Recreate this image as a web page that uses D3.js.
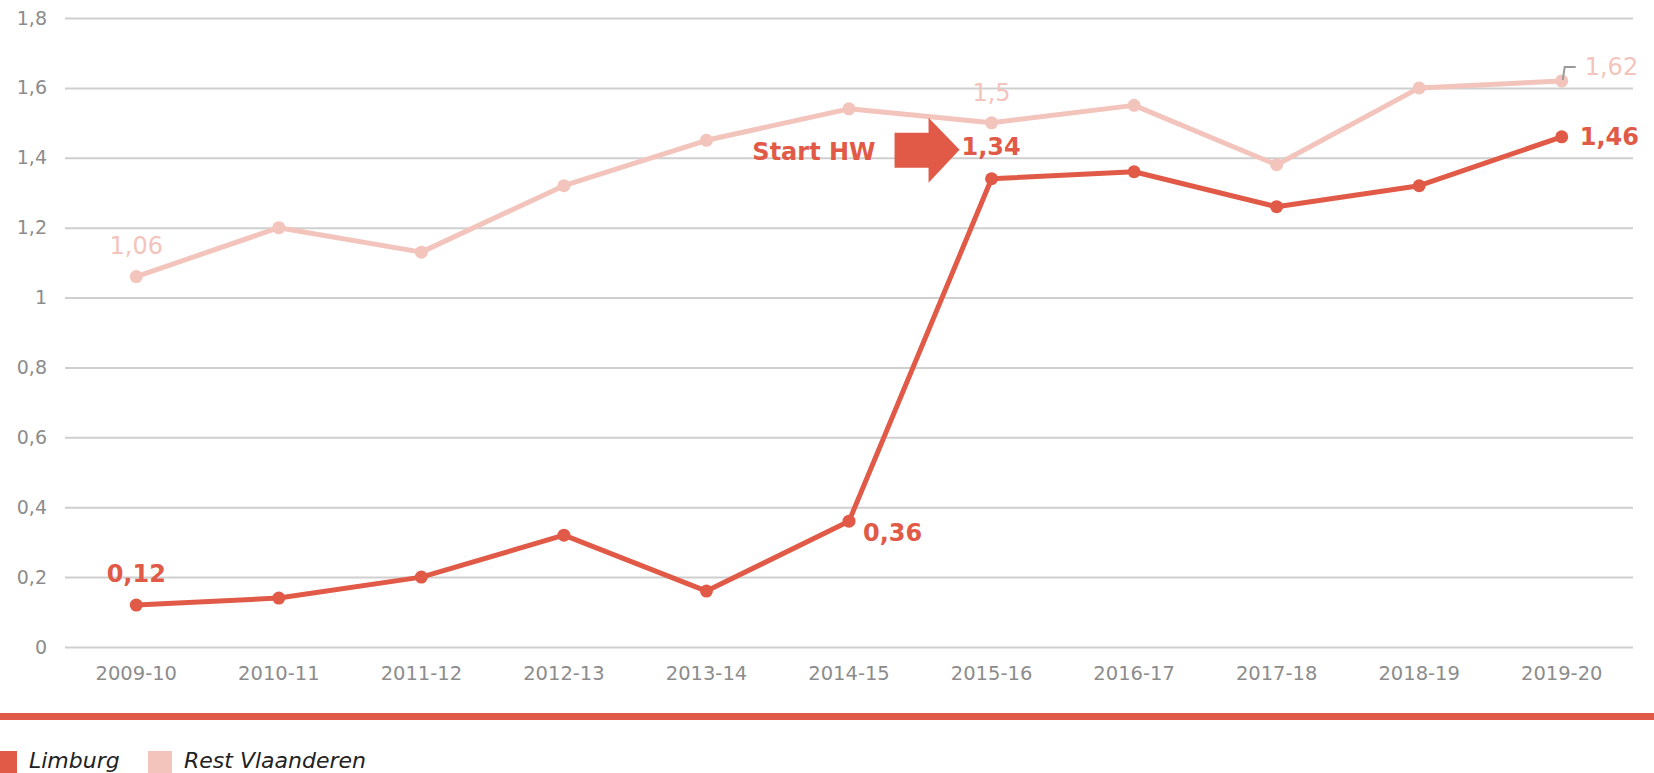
<!DOCTYPE html>
<html>
<head>
<meta charset="utf-8">
<script src="https://cdn.jsdelivr.net/npm/d3@7"></script>
<style>
  body { margin: 0; background: #fff; }
  svg { display: block; font-family: "DejaVu Sans", Verdana, sans-serif; }
</style>
</head>
<body>
<svg id="chart"></svg>
<script>
const WIDTH = 1654;
const HEIGHT = 773;
const MARGIN = { top: 18, right: 21, bottom: 126, left: 65 };

const RED = "#e05a47";
const PINK = "#f3c4bc";
const GRID = "#cfcfcf";
const TICK_TEXT = "#8c8c8c";

const years = ["2009-10", "2010-11", "2011-12", "2012-13", "2013-14", "2014-15",
  "2015-16", "2016-17", "2017-18", "2018-19", "2019-20"];
const limburg = [0.12, 0.14, 0.20, 0.32, 0.16, 0.36, 1.34, 1.36, 1.26, 1.32, 1.46];
const restVlaanderen = [1.06, 1.20, 1.13, 1.32, 1.45, 1.54, 1.50, 1.55, 1.38, 1.60, 1.62];
const yTicks = [0, 0.2, 0.4, 0.6, 0.8, 1, 1.2, 1.4, 1.6, 1.8];

// labelled points: index + placement
const limburgLabels = [
  { i: 0, dx: 0, dy: -23, anchor: "middle" },
  { i: 5, dx: 14, dy: 20, anchor: "start" },
  { i: 6, dx: -30, dy: -24, anchor: "start" },
  { i: 10, dx: 18, dy: 8, anchor: "start" },
];
const restLabels = [
  { i: 0, dx: 0, dy: -23, anchor: "middle" },
  { i: 6, dx: 0, dy: -22, anchor: "middle" },
  { i: 10, dx: 23, dy: -6, anchor: "start" },
];

const fmt = (v) => String(v).replace(".", ",");

const svg = d3.select("#chart").attr("width", WIDTH).attr("height", HEIGHT);

const x = d3.scaleBand()
  .domain(years)
  .range([MARGIN.left, WIDTH - MARGIN.right]);
const cx = (i) => x(years[i]) + x.bandwidth() / 2;

const y = d3.scaleLinear()
  .domain([0, 1.8])
  .range([HEIGHT - MARGIN.bottom, MARGIN.top]);

// grid + y axis
const yAxis = d3.axisLeft(y)
  .tickValues(yTicks)
  .tickSize(-(WIDTH - MARGIN.left - MARGIN.right))
  .tickPadding(18)
  .tickFormat((d) => fmt(d));

svg.append("g")
  .attr("transform", `translate(${MARGIN.left},0)`)
  .call(yAxis)
  .call((g) => g.select(".domain").remove())
  .call((g) => g.selectAll("line").attr("stroke", GRID).attr("stroke-width", 2))
  .call((g) => g.selectAll("text")
    .attr("fill", TICK_TEXT)
    .attr("font-size", 19)
    .attr("font-family", "DejaVu Sans"));

// x axis
const xAxis = d3.axisBottom(x).tickSize(0).tickPadding(19);
svg.append("g")
  .attr("transform", `translate(0,${HEIGHT - MARGIN.bottom})`)
  .call(xAxis)
  .call((g) => g.select(".domain").remove())
  .call((g) => g.selectAll("text")
    .attr("fill", TICK_TEXT)
    .attr("font-size", 19.5)
    .attr("font-family", "DejaVu Sans"));

const line = d3.line()
  .x((d, i) => cx(i))
  .y((d) => y(d));

function drawSeries(values, color) {
  svg.append("path")
    .datum(values)
    .attr("d", line)
    .attr("fill", "none")
    .attr("stroke", color)
    .attr("stroke-width", 5)
    .attr("stroke-linejoin", "round");
  svg.append("g")
    .selectAll("circle")
    .data(values)
    .join("circle")
    .attr("cx", (d, i) => cx(i))
    .attr("cy", (d) => y(d))
    .attr("r", 6.5)
    .attr("fill", color);
}

drawSeries(restVlaanderen, PINK);
drawSeries(limburg, RED);

// connector for last pink label
const lastI = restVlaanderen.length - 1;
const px = cx(lastI);
const py = y(restVlaanderen[lastI]);
svg.append("path")
  .attr("d", `M${px + 1},${py - 1} L${px + 3},${py - 14} L${px + 14},${py - 14}`)
  .attr("fill", "none")
  .attr("stroke", "#9a9a9a")
  .attr("stroke-width", 2);

svg.append("g")
  .selectAll("text")
  .data(restLabels)
  .join("text")
  .attr("x", (d) => cx(d.i) + d.dx)
  .attr("y", (d) => y(restVlaanderen[d.i]) + d.dy)
  .attr("text-anchor", (d) => d.anchor)
  .attr("font-size", 24)
  .attr("fill", PINK)
  .text((d) => fmt(restVlaanderen[d.i]));

svg.append("g")
  .selectAll("text")
  .data(limburgLabels)
  .join("text")
  .attr("x", (d) => cx(d.i) + d.dx)
  .attr("y", (d) => y(limburg[d.i]) + d.dy)
  .attr("text-anchor", (d) => d.anchor)
  .attr("font-size", 24)
  .attr("font-weight", "bold")
  .attr("fill", RED)
  .text((d) => fmt(limburg[d.i]));

// "Start HW" arrow, anchored on the 2015-16 point
const ax = cx(6) - 32;
const ay = y(limburg[6]) - 29;
svg.append("path")
  .attr("d", `M${ax - 65},${ay - 17} L${ax - 31},${ay - 17} L${ax - 31},${ay - 32} L${ax},${ay}
    L${ax - 31},${ay + 33} L${ax - 31},${ay + 18} L${ax - 65},${ay + 18} Z`)
  .attr("fill", RED);
svg.append("text")
  .attr("x", ax - 84)
  .attr("y", ay + 10)
  .attr("text-anchor", "end")
  .attr("font-size", 24)
  .attr("font-weight", "bold")
  .attr("fill", RED)
  .text("Start HW");

// separator bar
svg.append("rect")
  .attr("x", 0)
  .attr("y", 713)
  .attr("width", WIDTH)
  .attr("height", 7)
  .attr("fill", RED);

// legend
const legendItems = [
  { name: "Limburg", color: RED, x: 0, w: 17 },
  { name: "Rest Vlaanderen", color: PINK, x: 148, w: 24 },
];
const legend = svg.append("g").selectAll("g").data(legendItems).join("g");
legend.append("rect")
  .attr("x", (d) => d.x)
  .attr("y", 751)
  .attr("width", (d) => d.w)
  .attr("height", 22)
  .attr("fill", (d) => d.color);
legend.append("text")
  .attr("x", (d) => d.x + d.w + 12)
  .attr("y", 768)
  .attr("font-size", 22)
  .attr("font-style", "italic")
  .attr("fill", "#222")
  .text((d) => d.name);
</script>
</body>
</html>
